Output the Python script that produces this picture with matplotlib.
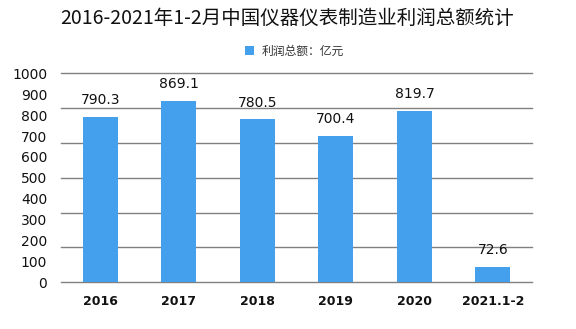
import numpy as np
import matplotlib
matplotlib.use("Agg")
import matplotlib.pyplot as plt

plt.rcParams['font.family'] = ['DejaVu Sans', 'Noto Sans CJK SC']

# data
years = ['2016', '2017', '2018', '2019', '2020', '2021.1-2']
profit = [790.3, 869.1, 780.5, 700.4, 819.7, 72.6]
ytick_vals = list(range(0, 1001, 100))

bar_color = '#449FEC'

fig = plt.figure(figsize=(5.76, 3.29), dpi=100)
ax = fig.add_axes([0.106, 0.142, 0.818, 0.635])

x = np.arange(len(years))
bars = ax.bar(x, profit, width=0.445, color=bar_color, label='利润总额：亿元', zorder=3)

for xi, v in zip(x, profit):
    ax.annotate(f'{v}', (xi, v), xytext=(0, 7), textcoords='offset points',
                ha='center', va='bottom', fontsize=10, color='#111111')

ax.set_xlim(-0.5, len(years) - 0.5)
ax.set_ylim(0, 1000)
ax.set_yticks(ytick_vals)
ax.set_yticklabels([str(v) for v in ytick_vals], fontsize=10, color='#111111')
# gridlines sit at sixths of the range, not at the labels
for g in np.linspace(0, 1000, 7):
    ax.axhline(g, color='#808080', linewidth=1, zorder=1, clip_on=False)
ax.set_xticks(x)
ax.set_xticklabels(years, fontsize=9, fontweight='bold', color='#111111')
ax.tick_params(axis='both', which='both', length=0)
ax.tick_params(axis='x', pad=9)
ax.tick_params(axis='y', pad=10)
for s in ax.spines.values():
    s.set_visible(False)

fig.text(0.498, 0.945, '2016-2021年1-2月中国仪器仪表制造业利润总额统计',
         ha='center', va='center', fontsize=14, fontweight='medium',
         family=['Noto Sans CJK SC', 'DejaVu Sans'], color='#111111')

fig.legend(handles=[bars], labels=['利润总额：亿元'], loc='center',
           bbox_to_anchor=(0.511, 0.845), frameon=False, handlelength=0.75,
           handleheight=0.75, handletextpad=0.6,
           prop={'family': ['Noto Sans CJK SC', 'DejaVu Sans'], 'size': 8.5})
for t in fig.legends[0].get_texts():
    t.set_color('#333333')

fig.savefig('out.png', dpi=100)
